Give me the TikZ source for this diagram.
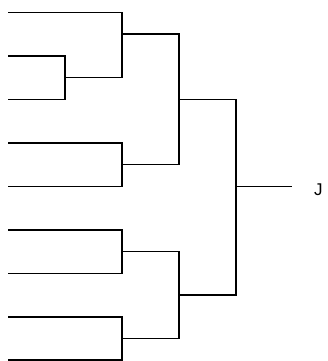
\documentclass[tikz,border=0pt]{standalone}
\usepackage{fontspec}
\setmainfont{Liberation Sans}
\begin{document}
\begin{tikzpicture}[x=1pt,y=-1pt,
  link/.style={draw=black,line width=1.2pt},
  lab/.style={anchor=west,inner sep=0pt,font=\fontsize{17}{19}\selectfont}]
\useasboundingbox (0,0) rectangle (328,361);
% leaves
\coordinate (L1) at (8,12.3);
\coordinate (L2) at (8,56);
\coordinate (L3) at (8,99.3);
\coordinate (L4) at (8,143);
\coordinate (L5) at (8,186.7);
\coordinate (L6) at (8,230);
\coordinate (L7) at (8,273.3);
\coordinate (L8) at (8,317);
\coordinate (L9) at (8,360);
% joins
\coordinate (A) at (65,77.7);
\coordinate (B) at (122,34);
\coordinate (C) at (122,164.8);
\coordinate (D) at (179,99.3);
\coordinate (E) at (122,251.7);
\coordinate (F) at (122,338.5);
\coordinate (G) at (179,295);
\coordinate (H) at (236,186.7);
\coordinate (R) at (292,186.7);
\node[lab] (j) at (314,189.5) {J};
\draw[link] (L2) -| (A) |- (L3);
\draw[link] (L1) -| (B) |- (A);
\draw[link] (L4) -| (C) |- (L5);
\draw[link] (B) -| (D) |- (C);
\draw[link] (L6) -| (E) |- (L7);
\draw[link] (L8) -| (F) |- (L9);
\draw[link] (E) -| (G) |- (F);
\draw[link] (D) -| (H) |- (G);
\draw[link] (H) -- (R);
\end{tikzpicture}
\end{document}
